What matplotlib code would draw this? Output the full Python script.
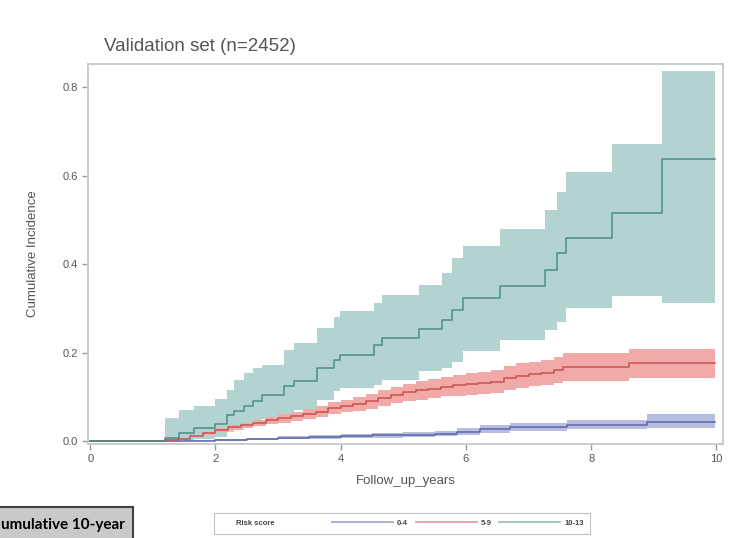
import matplotlib
matplotlib.use("Agg")
from matplotlib import pyplot as plt
from matplotlib.lines import Line2D
from matplotlib.patches import Rectangle

plt.rcParams['font.family'] = ['Liberation Sans', 'DejaVu Sans']

# risk score 10-13
green_t = [0, 1.20, 1.42, 1.65, 2.00, 2.18, 2.29, 2.45, 2.60, 2.75, 3.09, 3.25, 3.62, 3.89,
           3.99, 4.53, 4.66, 5.25, 5.62, 5.78, 5.96, 6.55, 7.27, 7.45, 7.59, 8.34, 9.13, 9.98]
green_ci = [0, 0.008, 0.019, 0.030, 0.038, 0.060, 0.068, 0.079, 0.090, 0.105, 0.124, 0.135, 0.165, 0.184,
            0.195, 0.218, 0.233, 0.253, 0.274, 0.297, 0.323, 0.350, 0.387, 0.425, 0.459, 0.516, 0.637, 0.637]
green_hi = [0, 0.053, 0.071, 0.080, 0.095, 0.115, 0.139, 0.155, 0.165, 0.173, 0.207, 0.222, 0.256, 0.280,
            0.293, 0.313, 0.331, 0.353, 0.380, 0.414, 0.441, 0.479, 0.522, 0.564, 0.607, 0.671, 0.836, 0.836]
green_lo = [0, 0.0, 0.002, 0.005, 0.010, 0.020, 0.025, 0.030, 0.040, 0.050, 0.060, 0.070, 0.094, 0.113,
            0.120, 0.128, 0.139, 0.158, 0.165, 0.180, 0.203, 0.229, 0.252, 0.270, 0.301, 0.327, 0.312, 0.312]

# risk score 5-9
red_t = [0, 1.2, 1.4, 1.6, 1.8, 2.0, 2.2, 2.4, 2.6, 2.8, 3.0, 3.2, 3.4, 3.6, 3.8, 4.0, 4.2, 4.4,
         4.6, 4.8, 5.0, 5.2, 5.4, 5.6, 5.8, 6.0, 6.2, 6.4, 6.6, 6.8, 7.0, 7.2, 7.4, 7.55, 8.6, 9.98]
red_ci = [0, 0.002, 0.006, 0.012, 0.018, 0.025, 0.031, 0.036, 0.042, 0.047, 0.052, 0.057, 0.062, 0.067,
          0.075, 0.080, 0.085, 0.090, 0.098, 0.105, 0.110, 0.115, 0.119, 0.123, 0.126, 0.129, 0.131,
          0.134, 0.142, 0.148, 0.152, 0.155, 0.160, 0.168, 0.176, 0.176]
red_hi = [0, 0.004, 0.008, 0.014, 0.021, 0.029, 0.036, 0.042, 0.049, 0.055, 0.061, 0.067, 0.073, 0.079,
          0.088, 0.094, 0.100, 0.106, 0.115, 0.123, 0.129, 0.135, 0.140, 0.145, 0.149, 0.153, 0.156,
          0.160, 0.169, 0.176, 0.180, 0.184, 0.190, 0.199, 0.209, 0.209]
red_lo = [0, 0.0, 0.004, 0.009, 0.014, 0.020, 0.025, 0.029, 0.034, 0.038, 0.042, 0.046, 0.050, 0.054,
          0.061, 0.065, 0.069, 0.073, 0.080, 0.086, 0.090, 0.094, 0.098, 0.101, 0.103, 0.105, 0.107,
          0.109, 0.116, 0.121, 0.125, 0.127, 0.131, 0.137, 0.143, 0.143]

# risk score 0-4
blue_t = [0, 1.5, 2.0, 2.5, 3.0, 3.5, 4.0, 4.5, 5.0, 5.5, 5.86, 6.23, 6.71, 7.61, 8.89, 9.98]
blue_ci = [0, 0.001, 0.003, 0.005, 0.007, 0.009, 0.011, 0.013, 0.015, 0.017, 0.021, 0.027, 0.032,
           0.037, 0.043, 0.043]
blue_hi = [0, 0.002, 0.005, 0.008, 0.011, 0.013, 0.016, 0.019, 0.021, 0.024, 0.029, 0.036, 0.042,
           0.048, 0.061, 0.061]
blue_lo = [0, 0.0, 0.001, 0.002, 0.004, 0.005, 0.007, 0.008, 0.009, 0.011, 0.014, 0.019, 0.023,
           0.027, 0.029, 0.029]

groups = ["0-4", "5-9", "10-13"]
x_ticks = [0, 2, 4, 6, 8, 10]
y_ticks = [0.0, 0.2, 0.4, 0.6, 0.8]

fig = plt.figure(figsize=(7.3, 5.38), dpi=100)
ax = fig.add_axes([0.121, 0.175, 0.869, 0.706])

series = [
    (blue_t, blue_ci, blue_lo, blue_hi, "#5c66a3", "#b6bde0"),
    (red_t, red_ci, red_lo, red_hi, "#c8504f", "#f2aaa9"),
    (green_t, green_ci, green_lo, green_hi, "#4d8c86", "#b2d3cf"),
]
for t, ci, lo, hi, lc, fc in series[::-1]:
    ax.fill_between(t, lo, hi, step="post", color=fc, lw=0)
for t, ci, lo, hi, lc, fc in series:
    ax.step(t, ci, where="post", color=lc, lw=1.1)

ax.set_xlim(-0.03, 10.1)
ax.set_ylim(-0.006, 0.852)
ax.set_xticks(x_ticks)
ax.set_xticklabels([str(v) for v in x_ticks])
ax.set_yticks(y_ticks)
ax.set_yticklabels([f"{v:.1f}" for v in y_ticks])
ax.tick_params(colors="#9a9a9a", labelcolor="#555555", labelsize=8, length=4, width=1)
for s in ax.spines.values():
    s.set_color("#c4c4c4")
    s.set_linewidth(1.2)

ax.set_xlabel("Follow_up_years", fontsize=9.5, color="#555555", labelpad=8)
ax.set_ylabel("Cumulative Incidence", fontsize=9.5, color="#555555", labelpad=17)
fig.text(0.143, 0.905, "Validation set (n=2452)", fontsize=13.5, color="#555555")

# legend below the plot
handles = [Line2D([], [], lw=0)]
labels = ["Risk score"]
for (t, ci, lo, hi, lc, fc), g in zip(series, groups):
    handles.append(Line2D([], [], color=lc, lw=1.2, alpha=0.6))
    labels.append(g)
leg = fig.legend(handles, labels, loc="center", bbox_to_anchor=(0.551, 0.027), ncol=4,
                 fontsize=5.5, frameon=True, fancybox=False, handlelength=8,
                 columnspacing=1.0, handletextpad=0.5, borderpad=0.9)
leg.get_frame().set_edgecolor("#b0b0b0")
leg.get_frame().set_linewidth(0.8)
for txt in leg.get_texts():
    txt.set_color("#444444")
    txt.set_fontweight("bold")
leg.get_texts()[0].set_position((-50, 0))

# cropped caption box from the surrounding page
fig.patches.append(Rectangle((-0.01, -0.01), 0.192, 0.067, transform=fig.transFigure,
                             facecolor="#c9c9c9", edgecolor="#404040", lw=1.5))
fig.text(0.002, 0.016, "umulative 10-year", fontsize=11, fontweight="bold",
         family=["Lato", "DejaVu Sans"], color="black")

fig.savefig("out.png", dpi=100)
